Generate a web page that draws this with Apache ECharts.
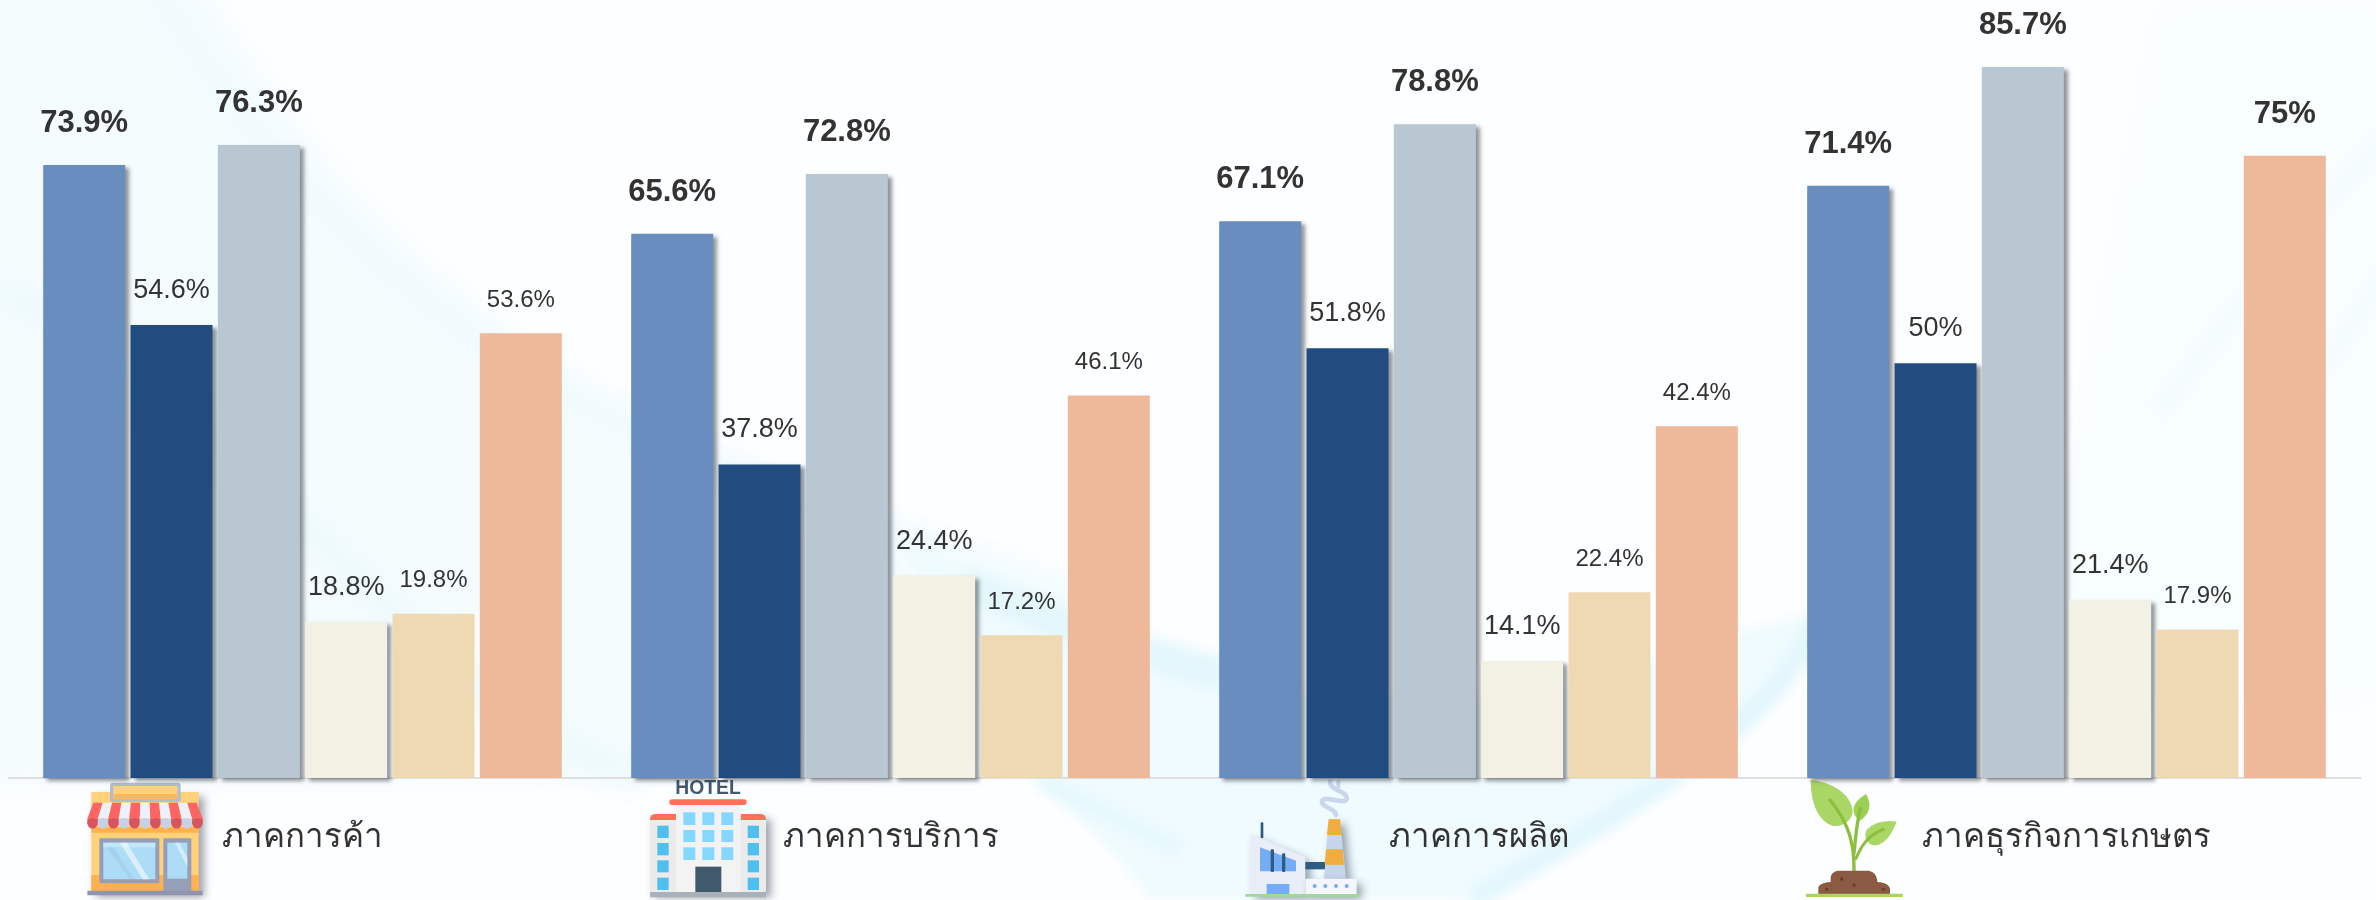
<!DOCTYPE html>
<html>
<head>
<meta charset="utf-8">
<style>
html,body{margin:0;padding:0;background:#fdfeff;width:2376px;height:900px;overflow:hidden}
#bg{position:absolute;left:0;top:0}
#chart{position:absolute;left:0;top:0;width:2376px;height:900px}
</style>
<script src="https://cdn.jsdelivr.net/npm/echarts@6/dist/echarts.min.js"></script>
</head>
<body>
<svg id="bg" width="2376" height="900" viewBox="0 0 2376 900">
  <defs>
    <filter id="b1" x="-20%" y="-20%" width="140%" height="140%"><feGaussianBlur stdDeviation="14"/></filter>
    <filter id="b2" x="-20%" y="-20%" width="140%" height="140%"><feGaussianBlur stdDeviation="6"/></filter>
  </defs>
  <rect width="2376" height="900" fill="#fdfeff"/>
  <path d="M-40,-40 L190,-40 C330,190 470,340 760,470 C900,530 1000,570 1100,610 L1000,770 L-40,790 Z" fill="#f5fcfe" filter="url(#b1)"/>
  <path d="M900,540 C1050,620 1150,650 1250,690 L1500,700 L1820,610 C1780,700 1700,790 1460,900 L1150,900 C1120,850 1050,800 1000,740 Z" fill="#effbfe" filter="url(#b2)"/>
  <path d="M960,580 C1050,620 1130,650 1225,675" fill="none" stroke="#e4f7fc" stroke-width="34" filter="url(#b2)"/>
  <path d="M1040,780 L1180,850" fill="none" stroke="#e6f8fd" stroke-width="18" filter="url(#b2)"/>
  <path d="M1815,625 C1780,700 1720,760 1470,900" fill="none" stroke="#e3f7fd" stroke-width="22" filter="url(#b2)"/>
  <path d="M150,-20 C300,220 470,380 780,490 C900,535 1000,570 1100,600" fill="none" stroke="#eaf9fd" stroke-width="14" filter="url(#b1)"/>
  <path d="M0,290 C120,340 260,480 400,620 C480,700 560,750 640,780" fill="none" stroke="#ebf9fd" stroke-width="26" filter="url(#b1)"/>
  <path d="M2160,0 L2396,0 L2396,700 L2000,700 C2080,480 2120,200 2160,0 Z" fill="#f8fdfe" filter="url(#b1)"/>
  <path d="M2160,410 C2230,320 2300,220 2396,130" fill="none" stroke="#f1fbfe" stroke-width="10" filter="url(#b2)"/>
  <path d="M2320,370 L2396,260" fill="none" stroke="#f1fbfe" stroke-width="10" filter="url(#b2)"/>
</svg>
<div id="chart"></div>
<script>
var categories = ['ภาคการค้า', 'ภาคการบริการ', 'ภาคการผลิต', 'ภาคธุรกิจการเกษตร'];
var series1 = [73.9, 65.6, 67.1, 71.4];
var series2 = [54.6, 37.8, 51.8, 50];
var series3 = [76.3, 72.8, 78.8, 85.7];
var series4 = [18.8, 24.4, 14.1, 21.4];
var series5 = [19.8, 17.2, 22.4, 17.9];
var series6 = [53.6, 46.1, 42.4, 75];
var colors = ['#6a8dc0', '#224c7f', '#b8c7d2', '#f3f0e4', '#efd9b3', '#eeb89a'];
var seriesValues = [series1, series2, series3, series4, series5, series6];

function rect(x0, y0, x1, y1, fill, r, extra) {
  var o = { type: 'rect', shape: { x: x0, y: y0, width: x1 - x0, height: y1 - y0, r: r || 0 }, style: { fill: fill } };
  if (extra) for (var k in extra) o.style[k] = extra[k];
  return o;
}
function poly(points, fill, extra) {
  var o = { type: 'polygon', shape: { points: points }, style: { fill: fill } };
  if (extra) for (var k in extra) o.style[k] = extra[k];
  return o;
}
// Flatten a small path string of M, L, Q, C, Z commands into points for the icon drawings.
function flatten(d) {
  var toks = d.match(/[MLQCZ]|-?[\d.]+/g), pts = [], i = 0, cmd, cur = [0, 0];
  function num() { return parseFloat(toks[i++]); }
  while (i < toks.length) {
    if (/[MLQCZ]/.test(toks[i])) cmd = toks[i++];
    if (cmd === 'Z') continue;
    if (cmd === 'M' || cmd === 'L') { cur = [num(), num()]; pts.push(cur); }
    else if (cmd === 'Q') {
      var q = [num(), num()], e = [num(), num()], s = cur;
      for (var t = 1; t <= 12; t++) { var u = t / 12, m = 1 - u; pts.push([m * m * s[0] + 2 * m * u * q[0] + u * u * e[0], m * m * s[1] + 2 * m * u * q[1] + u * u * e[1]]); }
      cur = e;
    } else if (cmd === 'C') {
      var a = [num(), num()], b = [num(), num()], f = [num(), num()], s2 = cur;
      for (var t2 = 1; t2 <= 20; t2++) { var v = t2 / 20, n = 1 - v; pts.push([n * n * n * s2[0] + 3 * n * n * v * a[0] + 3 * n * v * v * b[0] + v * v * v * f[0], n * n * n * s2[1] + 3 * n * n * v * a[1] + 3 * n * v * v * b[1] + v * v * v * f[1]]); }
      cur = f;
    }
  }
  return pts;
}
function blob(d, fill, extra) { return poly(flatten(d), fill, extra); }
function stroke(d, color, lw) {
  return { type: 'polyline', shape: { points: flatten(d) }, style: { fill: 'none', stroke: color, lineWidth: lw, lineCap: 'round', lineJoin: 'round' } };
}
function circle(cx, cy, r, fill) {
  return { type: 'circle', shape: { cx: cx, cy: cy, r: r }, style: { fill: fill } };
}
function icon(x, y, children) {
  return { type: 'group', x: x, y: y, scaleX: 1 / 3, scaleY: 1 / 3, silent: true, z: 5, children: children };
}
var sh = { shadowColor: 'rgba(40,50,70,0.45)', shadowBlur: 8, shadowOffsetX: 5, shadowOffsetY: 5 };

function shopIcon() {
  var c = [];
  c.push(rect(94, 66, 416, 366, '#ffd27a', 0, sh));
  c.push(rect(94, 315, 416, 366, '#ffb04f'));
  c.push(rect(150, 38, 362, 96, '#b3bcd3', 8));
  c.push(rect(160, 48, 352, 86, '#ffd27a'));
  c.push(rect(160, 72, 352, 86, '#ffb65c'));
  c.push(rect(94, 172, 416, 188, '#ffb04f'));
  var n = 11, top0 = 100, top1 = 410, bot0 = 82, bot1 = 428;
  for (var i = 0; i < n; i++) {
    var a0 = top0 + (top1 - top0) * i / n, a1 = top0 + (top1 - top0) * (i + 1) / n;
    var b0 = bot0 + (bot1 - bot0) * i / n, b1 = bot0 + (bot1 - bot0) * (i + 1) / n;
    var red = i % 2 === 0;
    var rr = (b1 - b0) / 2;
    c.push(poly([[a0, 98], [a1, 98], [b1, 146], [b0, 146]], red ? '#ff6464' : '#eef1f9'));
    c.push(rect(b0, 146, b1, 160, red ? '#d6545e' : '#c6d1e6'));
    c.push(circle(b0 + rr, 160, rr, red ? '#d6545e' : '#c6d1e6'));
  }
  c.push(rect(118, 205, 298, 340, '#979eb8', 3));
  c.push(rect(130, 218, 286, 328, '#addcf6'));
  c.push(rect(130, 218, 286, 232, '#c4e6f9'));
  c.push(poly([[180, 218], [200, 218], [268, 328], [248, 328]], 'rgba(255,255,255,0.55)'));
  c.push(poly([[140, 232], [160, 232], [222, 328], [210, 328]], 'rgba(160,200,235,0.6)'));
  c.push(rect(310, 205, 394, 366, '#979eb8', 3));
  c.push(rect(322, 218, 382, 326, '#addcf6'));
  c.push(poly([[345, 218], [358, 218], [382, 265], [382, 290]], 'rgba(255,255,255,0.5)'));
  c.push(rect(82, 362, 428, 376, '#8e96af'));
  return icon(60, 770, c);
}
function hotelIcon() {
  var c = [];
  c.push(rect(60, 132, 408, 368, '#ebebeb', 6, sh));
  c.push(blob('M60,150 Q60,132 78,132 L138,132 L138,150 Z', '#ff7058'));
  c.push(blob('M408,150 Q408,132 390,132 L332,132 L332,150 Z', '#ff7058'));
  c.push(rect(138, 105, 332, 368, '#f3f3f3'));
  c.push(rect(118, 88, 350, 105, '#ff7058', 8));
  [[160, 196], [217, 253], [274, 310]].forEach(function (col) {
    [[127, 165], [180, 216], [232, 270]].forEach(function (row) {
      c.push(rect(col[0], row[0], col[1], row[1], '#84d7ff'));
    });
  });
  [[82, 116], [353, 387]].forEach(function (col) {
    [[167, 204], [219, 256], [271, 307], [323, 360]].forEach(function (row) {
      c.push(rect(col[0], row[0], col[1], row[1], '#4fbfee'));
    });
  });
  c.push(rect(196, 290, 274, 368, '#40596b'));
  c.push(rect(60, 366, 408, 382, '#a9b1ba'));
  c.push({ type: 'text', style: { x: 234, y: 55, text: 'HOTEL', fill: '#43596e', font: 'bold 58px "Liberation Sans", sans-serif', align: 'center', verticalAlign: 'middle', shadowColor: 'rgba(40,50,70,0.35)', shadowBlur: 6, shadowOffsetX: 3, shadowOffsetY: 5 } });
  return icon(630, 770, c);
}
function factoryIcon() {
  var c = [];
  c.push(stroke('M300,35 C300,62 350,62 350,85 C350,108 278,72 276,95 C276,112 315,115 318,135', '#c9d6ee', 14));
  c.push(stroke('M325,35 L325,50', '#c9d6ee', 12));
  c.push(rect(92, 157, 100, 205, '#2e5c82', 3));
  c.push(poly([[62, 192], [226, 262], [226, 372], [62, 372]], '#e9edf8', sh));
  c.push(poly([[90, 232], [198, 272], [198, 304], [90, 304]], '#74acf5'));
  c.push(rect(122, 238, 132, 306, '#2e5c82', 4));
  c.push(rect(156, 250, 166, 306, '#2e5c82', 4));
  c.push(rect(110, 342, 178, 372, '#74acf5'));
  c.push(rect(226, 276, 288, 298, '#2e5c82'));
  c.push(poly([[296, 148], [330, 148], [348, 326], [282, 326]], '#c6d4ec', sh));
  c.push(poly([[296, 148], [330, 148], [335, 195], [291, 195]], '#f0ad3e'));
  c.push(poly([[288, 238], [338, 238], [342, 284], [284, 284]], '#f0ad3e'));
  c.push(rect(226, 326, 380, 372, '#f4f6fc', 0, sh));
  [254, 286, 318, 350].forEach(function (x) { c.push(circle(x, 348, 6, '#74acf5')); });
  c.push(rect(46, 372, 392, 380, '#9ed89a'));
  return icon(1230, 770, c);
}
function plantIcon() {
  var c = [];
  c.push(blob('M92,30 C150,35 215,70 218,125 C215,155 185,170 160,168 C115,155 92,100 92,30 Z', '#a9d665'));
  c.push(blob('M258,72 C275,100 272,130 240,152 C215,135 208,102 258,72 Z', '#9ccf55'));
  c.push(blob('M350,155 C335,195 310,228 280,226 C260,222 248,195 262,178 C285,155 320,150 350,155 Z', '#a9d665'));
  c.push(stroke('M222,305 C222,235 215,170 150,90', '#8cbf3f', 10));
  c.push(stroke('M222,250 C228,190 232,150 242,115', '#8cbf3f', 10));
  c.push(stroke('M228,265 C250,215 270,195 310,178', '#8cbf3f', 9));
  c.push(blob('M115,372 L115,352 Q120,338 152,336 L152,322 Q155,304 178,302 L262,302 Q290,304 292,336 Q325,338 330,356 L330,372 Z', '#8b5a42'));
  [[185, 327], [222, 345], [140, 358], [310, 358]].forEach(function (p) { c.push(circle(p[0], p[1], 5, '#6a3e2e')); });
  c.push(rect(78, 371, 368, 381, '#a9d65f'));
  return icon(1780, 770, c);
}

var labelStyles = [
  { fontSize: 31, fontWeight: 'bold', distance: 26 },
  { fontSize: 27, fontWeight: 'normal', distance: 21 },
  { fontSize: 31, fontWeight: 'bold', distance: 26 },
  { fontSize: 27, fontWeight: 'normal', distance: 21 },
  { fontSize: 24, fontWeight: 'normal', distance: 21 },
  { fontSize: 24, fontWeight: 'normal', distance: 21 }
];
var barShadow = { shadowColor: 'rgba(40,45,55,0.5)', shadowBlur: 4, shadowOffsetX: 4, shadowOffsetY: 3 };

var option = {
  animation: false,
  backgroundColor: 'transparent',
  textStyle: { fontFamily: '"Liberation Sans", Arial, sans-serif' },
  grid: { left: 8.5, width: 2352, top: 31.4, height: 746.6, containLabel: false },
  xAxis: {
    type: 'category',
    data: categories,
    axisTick: { show: false },
    axisLine: { lineStyle: { color: '#dfdfdf', width: 2 } },
    axisLabel: { color: '#333333', fontSize: 33, margin: 43, fontFamily: '"Liberation Sans", "Noto Sans", sans-serif' }
  },
  yAxis: { type: 'value', min: 0, max: 90, show: false },
  series: seriesValues.map(function (vals, i) {
    var st = labelStyles[i];
    return {
      type: 'bar',
      barWidth: 82,
      barGap: '6.5%',
      itemStyle: i < 4 ? Object.assign({ color: colors[i] }, barShadow) : { color: colors[i] },
      label: {
        show: true, position: 'top', distance: st.distance, color: '#333333',
        fontSize: st.fontSize, fontWeight: st.fontWeight,
        fontFamily: '"Liberation Sans", Arial, sans-serif',
        formatter: '{c}%'
      },
      data: vals.map(function (v, j) {
        if (i === 5 && j === 3) return { value: v, label: { fontSize: 31, fontWeight: 'bold', distance: 26 } };
        return v;
      })
    };
  }),
  graphic: { elements: [shopIcon(), hotelIcon(), factoryIcon(), plantIcon()] }
};
var chart = echarts.init(document.getElementById('chart'), null, { renderer: 'canvas' });
chart.setOption(option);
</script>
</body>
</html>
